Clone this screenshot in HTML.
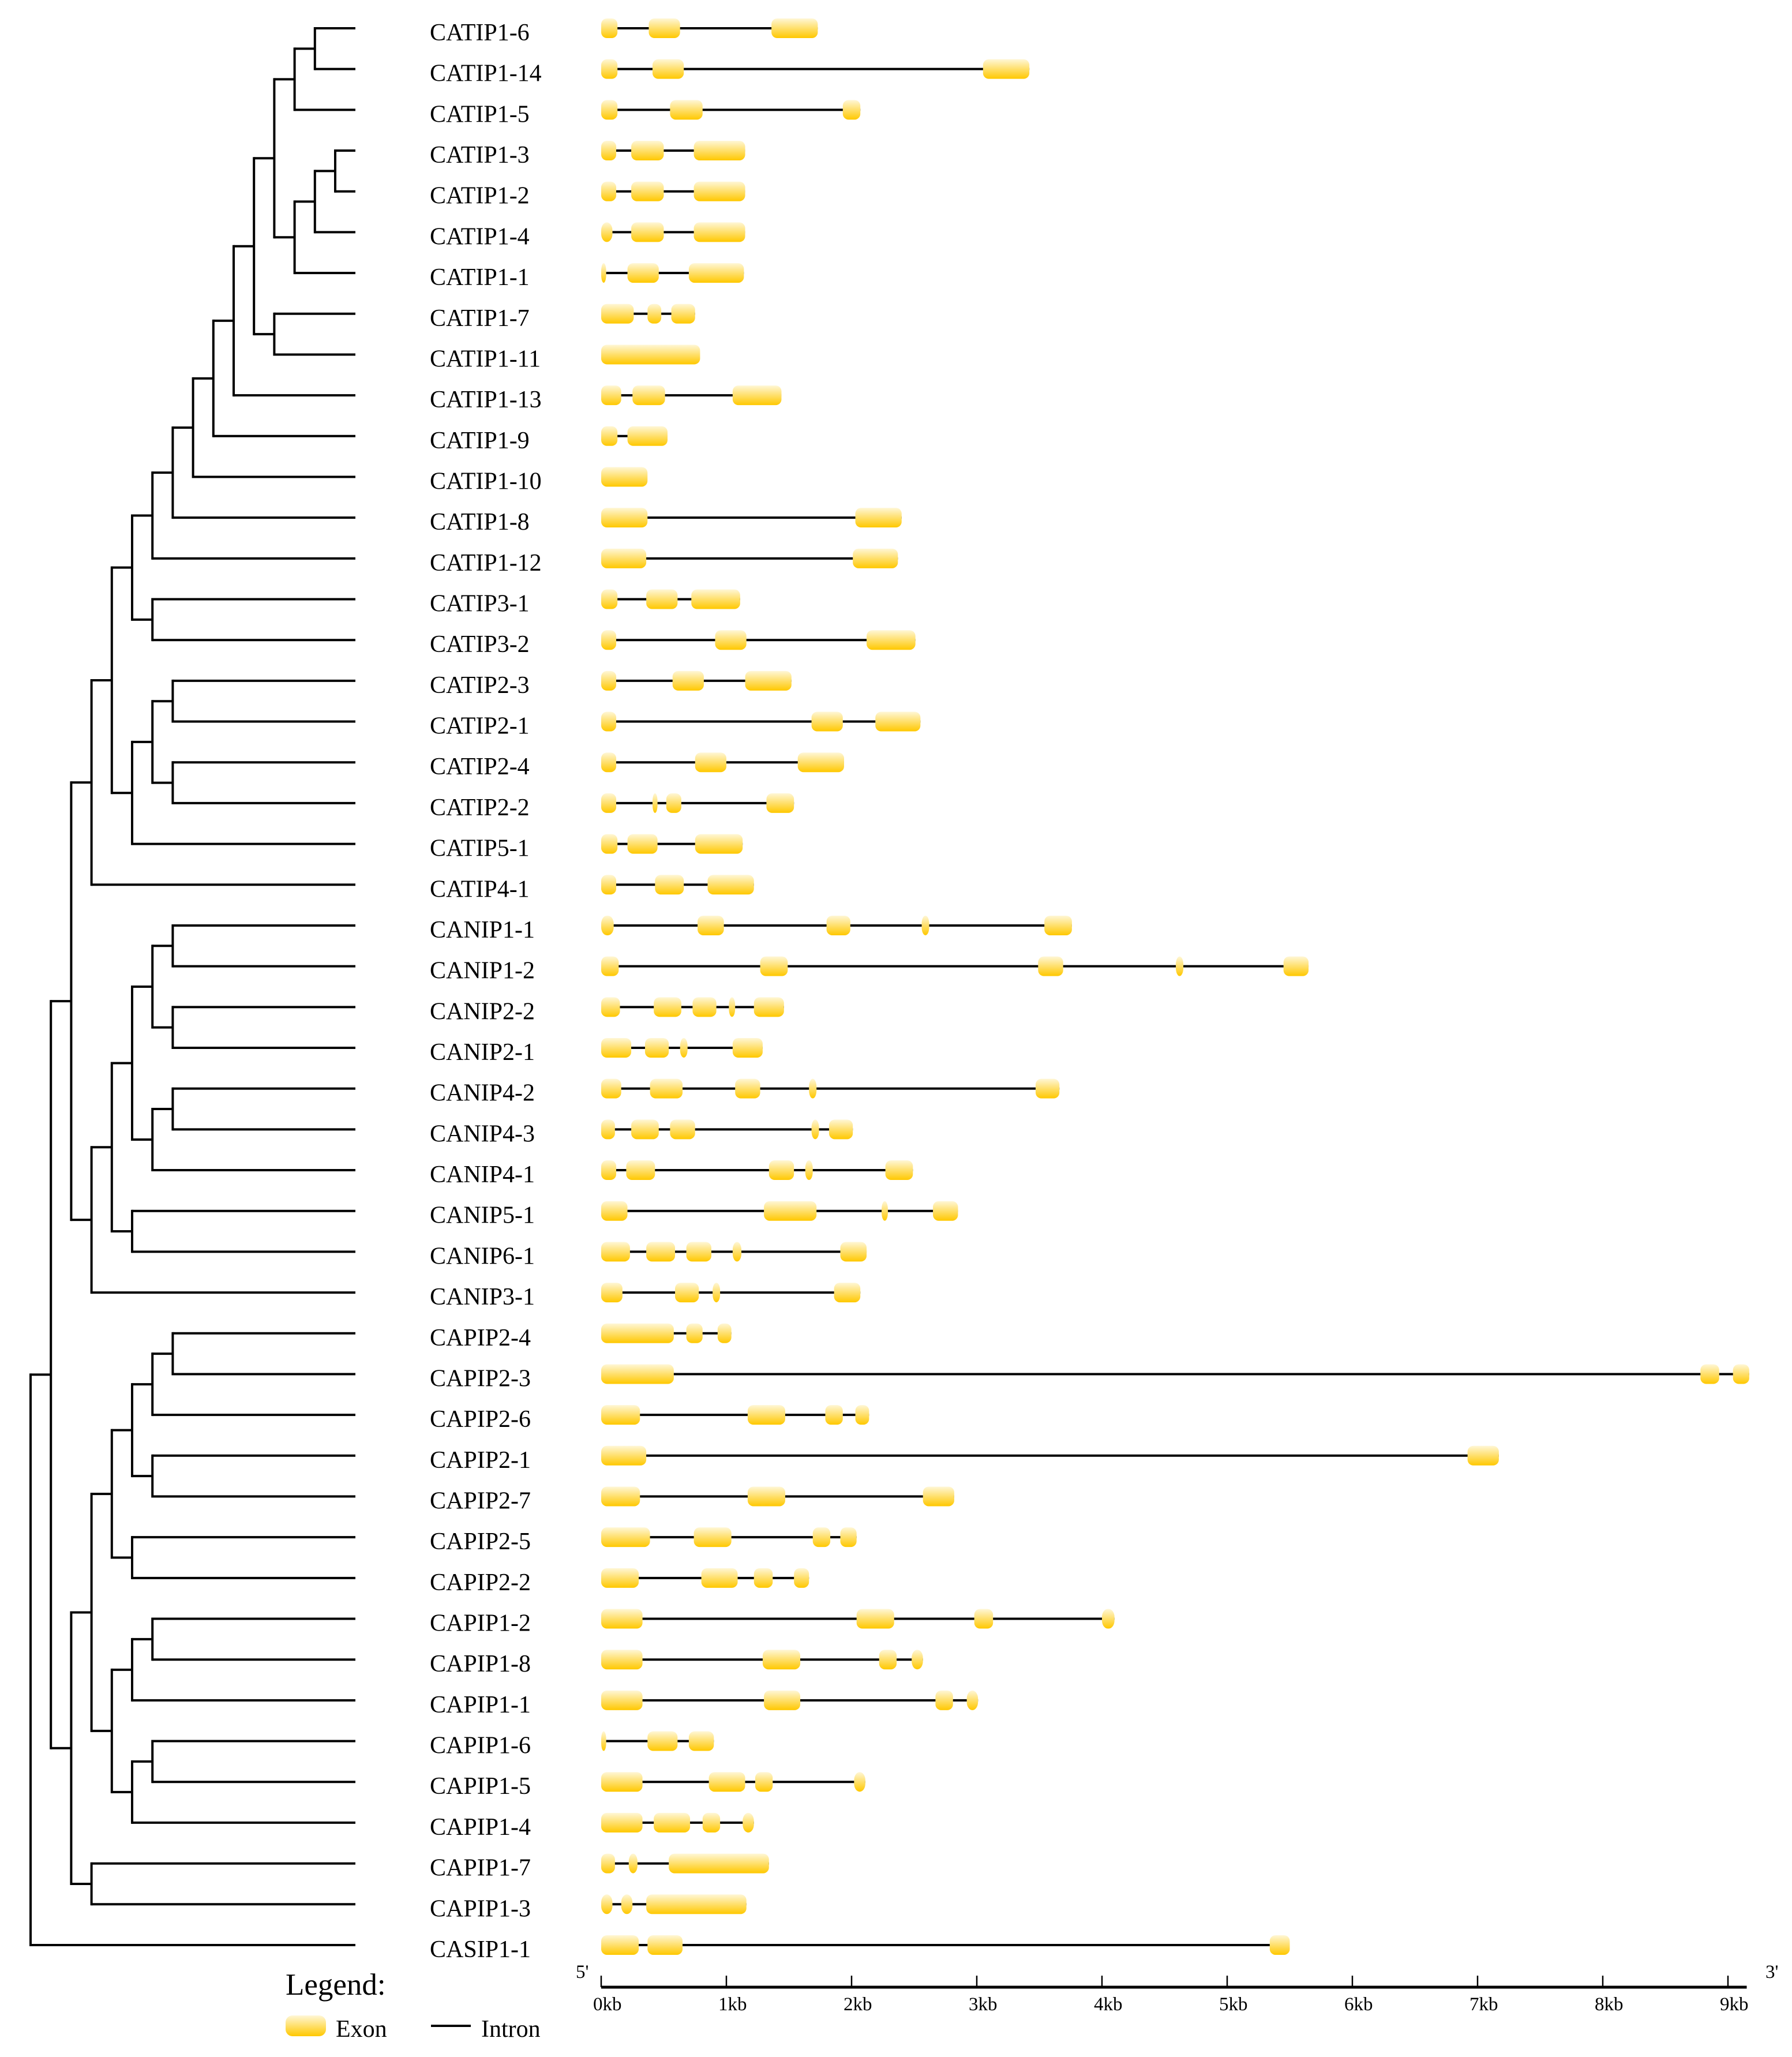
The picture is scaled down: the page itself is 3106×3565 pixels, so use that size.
<!DOCTYPE html>
<html><head><meta charset="utf-8">
<style>
html,body{margin:0;padding:0;background:#fff;}
svg{display:block;font-family:"Liberation Serif",serif;}
</style></head>
<body>
<svg id="chart" xmlns="http://www.w3.org/2000/svg" width="3106" height="3565" viewBox="0 0 3106 3565">
<defs>
<linearGradient id="exg" x1="0" y1="0" x2="0" y2="1">
<stop offset="0" stop-color="#fff7d6"/><stop offset="1" stop-color="#ffc800"/>
</linearGradient>
</defs>
<g id="tree"></g>
<g id="labels"></g>
<g id="genes"></g>
<g id="axis"></g>
<g id="legend">
<text x="495" y="3457" font-size="53">Legend:</text>
<rect x="495" y="3493" width="70" height="36" rx="12" ry="12" fill="url(#exg)"/>
<text x="582" y="3530" font-size="42">Exon</text>
<line x1="747" y1="3511" x2="816" y2="3511" stroke="#000" stroke-width="4"/>
<text x="834" y="3530" font-size="42">Intron</text>
</g>
</svg>
<script>
const names = ["CATIP1-6","CATIP1-14","CATIP1-5","CATIP1-3","CATIP1-2","CATIP1-4","CATIP1-1","CATIP1-7","CATIP1-11","CATIP1-13","CATIP1-9","CATIP1-10","CATIP1-8","CATIP1-12","CATIP3-1","CATIP3-2","CATIP2-3","CATIP2-1","CATIP2-4","CATIP2-2","CATIP5-1","CATIP4-1","CANIP1-1","CANIP1-2","CANIP2-2","CANIP2-1","CANIP4-2","CANIP4-3","CANIP4-1","CANIP5-1","CANIP6-1","CANIP3-1","CAPIP2-4","CAPIP2-3","CAPIP2-6","CAPIP2-1","CAPIP2-7","CAPIP2-5","CAPIP2-2","CAPIP1-2","CAPIP1-8","CAPIP1-1","CAPIP1-6","CAPIP1-5","CAPIP1-4","CAPIP1-7","CAPIP1-3","CASIP1-1"];
const exons = [
[[0,0.13],[0.38,0.63],[1.36,1.73]],
[[0,0.13],[0.41,0.66],[3.05,3.42]],
[[0,0.13],[0.55,0.81],[1.93,2.07]],
[[0,0.12],[0.24,0.50],[0.74,1.15]],
[[0,0.12],[0.24,0.50],[0.74,1.15]],
[[0,0.09],[0.24,0.50],[0.74,1.15]],
[[0,0.04],[0.21,0.46],[0.70,1.14]],
[[0,0.26],[0.37,0.48],[0.56,0.75]],
[[0,0.79]],
[[0,0.16],[0.25,0.51],[1.05,1.44]],
[[0,0.13],[0.21,0.53]],
[[0,0.37]],
[[0,0.37],[2.03,2.40]],
[[0,0.36],[2.01,2.37]],
[[0,0.13],[0.36,0.61],[0.72,1.11]],
[[0,0.12],[0.91,1.16],[2.12,2.51]],
[[0,0.12],[0.57,0.82],[1.15,1.52]],
[[0,0.12],[1.68,1.93],[2.19,2.55]],
[[0,0.12],[0.75,1.00],[1.57,1.94]],
[[0,0.12],[0.41,0.45],[0.52,0.64],[1.32,1.54]],
[[0,0.13],[0.21,0.45],[0.75,1.13]],
[[0,0.12],[0.43,0.66],[0.85,1.22]],
[[0,0.10],[0.77,0.98],[1.80,1.99],[2.56,2.62],[3.54,3.76]],
[[0,0.14],[1.27,1.49],[3.49,3.69],[4.59,4.65],[5.45,5.65]],
[[0,0.15],[0.42,0.64],[0.73,0.92],[1.02,1.07],[1.22,1.46]],
[[0,0.24],[0.35,0.54],[0.63,0.69],[1.05,1.29]],
[[0,0.16],[0.39,0.65],[1.07,1.27],[1.66,1.72],[3.47,3.66]],
[[0,0.11],[0.24,0.46],[0.55,0.75],[1.68,1.74],[1.82,2.01]],
[[0,0.12],[0.20,0.43],[1.34,1.54],[1.63,1.69],[2.27,2.49]],
[[0,0.21],[1.30,1.72],[2.24,2.29],[2.65,2.85]],
[[0,0.23],[0.36,0.59],[0.68,0.88],[1.05,1.12],[1.91,2.12]],
[[0,0.17],[0.59,0.78],[0.89,0.95],[1.86,2.07]],
[[0,0.58],[0.68,0.81],[0.93,1.04]],
[[0,0.58],[8.78,8.93],[9.04,9.17]],
[[0,0.31],[1.17,1.47],[1.79,1.93],[2.03,2.14]],
[[0,0.36],[6.92,7.17]],
[[0,0.31],[1.17,1.47],[2.57,2.82]],
[[0,0.39],[0.74,1.04],[1.69,1.83],[1.91,2.04]],
[[0,0.30],[0.80,1.09],[1.22,1.37],[1.54,1.66]],
[[0,0.33],[2.04,2.34],[2.98,3.13],[4.00,4.10]],
[[0,0.33],[1.29,1.59],[2.22,2.36],[2.48,2.57]],
[[0,0.33],[1.30,1.59],[2.67,2.81],[2.92,3.01]],
[[0,0.04],[0.37,0.61],[0.70,0.90]],
[[0,0.33],[0.86,1.15],[1.23,1.37],[2.02,2.11]],
[[0,0.33],[0.42,0.71],[0.81,0.95],[1.13,1.22]],
[[0,0.11],[0.22,0.29],[0.54,1.34]],
[[0,0.09],[0.16,0.25],[0.36,1.16]],
[[0,0.30],[0.37,0.65],[5.34,5.50]]
];
const axisTicks = [0,1,2,3,4,5,6,7,8,9];
const axisTickLabels = ["0kb","1kb","2kb","3kb","4kb","5kb","6kb","7kb","8kb","9kb"];
const axisMaxKb = 9.15;
// tree: [level, child, child, ...]; numbers are leaf indices
const tree = [0,[1,[2,[3,[4,[5,[6,[7,[8,[9,[10,[11,[12,[13,[14,0,1],2],[13,[14,[15,3,4],5],6]],[12,7,8]],9],10],11],12],13],[6,14,15]],[5,[6,[7,16,17],[7,18,19]],20]],21],[3,[4,[5,[6,[7,22,23],[7,24,25]],[6,[7,26,27],28]],[5,29,30]],31]],[2,[3,[4,[5,[6,[7,32,33],34],[6,35,36]],[5,37,38]],[4,[5,[6,39,40],41],[5,[6,42,43],44]]],[3,45,46]]],47];

const NS="http://www.w3.org/2000/svg";
const row0=49, rowStep=70.68;
const yRow=i=>row0+rowStep*i;
const x0=1042, pxPerKb=217.0;
const xKb=k=>x0+k*pxPerKb;
const xLevel=L=>53+35.2*L;
const leafX=616;
function mk(tag,attrs,parent){const e=document.createElementNS(NS,tag);for(const k in attrs)e.setAttribute(k,attrs[k]);parent.appendChild(e);return e;}

const gTree=document.getElementById('tree');
function drawNode(n){
  if(typeof n==='number') return {y:yRow(n),x:leafX};
  const L=n[0], x=xLevel(L);
  const ch=n.slice(1).map(drawNode);
  const ys=ch.map(c=>c.y);
  const v=mk('line',{x1:x,y1:Math.min(...ys),x2:x,y2:Math.max(...ys),stroke:'#000','stroke-width':4,'stroke-linecap':'square'},gTree);
  
  
  ch.forEach(c=>{
    const h=mk('line',{x1:x,y1:c.y,x2:c.x,y2:c.y,stroke:'#000','stroke-width':4},gTree);
    
    
  });
  return {y:(Math.min(...ys)+Math.max(...ys))/2,x:x};
}
const root=drawNode(tree);

const gLab=document.getElementById('labels');
const gGenes=document.getElementById('genes');
names.forEach((nm,i)=>{
  const y=yRow(i);
  const t=mk('text',{x:745,y:y+21,'font-size':42},gLab);
  t.textContent=nm;
  
  
  const ex=exons[i];
  const g=mk('g',{},gGenes);
  
  
  if(ex.length>1){
    const ln=mk('line',{x1:xKb(ex[0][0]),y1:y,x2:xKb(ex[ex.length-1][1]),y2:y,stroke:'#000','stroke-width':4},g);
    
    
  }
  ex.forEach(e=>{
    const xa=xKb(e[0]), w=Math.max(6,xKb(e[1])-xa);
    const r=Math.min(w/2,10);
    const rc=mk('rect',{x:xa,y:y-17,width:w,height:34,rx:r,ry:w<22?14:10,fill:'url(#exg)'},g);
    
    
  });
});

const gAx=document.getElementById('axis');
const axY=3444;
const al=mk('line',{x1:x0,y1:axY,x2:xKb(axisMaxKb),y2:axY,stroke:'#000','stroke-width':5},gAx);


axisTicks.forEach((k,i)=>{
  const tk=mk('line',{x1:xKb(k),y1:3424,x2:xKb(k),y2:axY,stroke:'#000','stroke-width':2.5},gAx);
  
  
  const tl=mk('text',{x:xKb(k)-14,y:3484,'font-size':33},gAx);
  tl.textContent=axisTickLabels[i];
  
  
});
const p5=mk('text',{x:998,y:3428,'font-size':33},gAx);
p5.textContent="5'";


const p3=mk('text',{x:3060,y:3428,'font-size':33},gAx);
p3.textContent="3'";


</script>
</body></html>
